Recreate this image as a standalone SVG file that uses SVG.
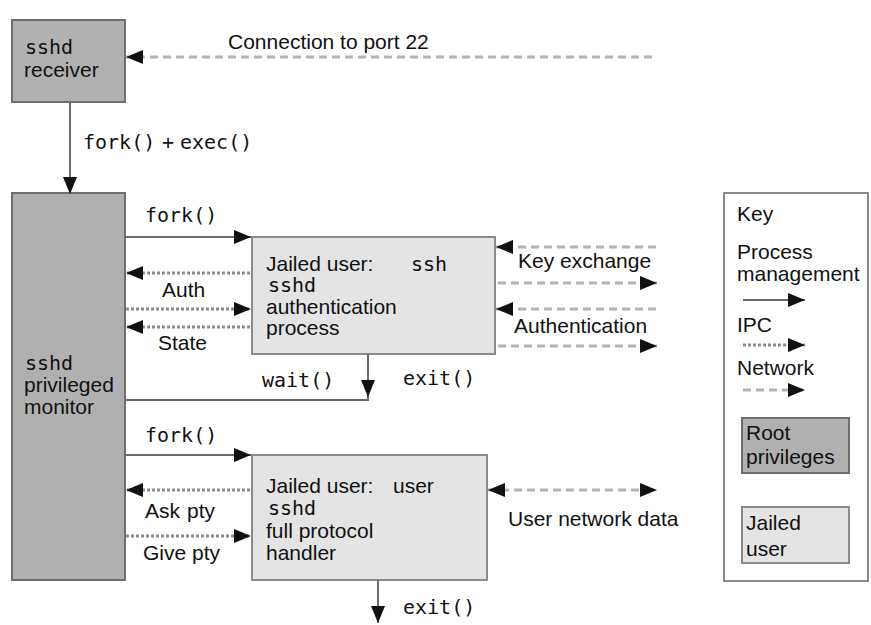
<svg xmlns="http://www.w3.org/2000/svg" width="871" height="625" viewBox="0 0 871 625">
<defs>
<marker id="ah" markerUnits="userSpaceOnUse" markerWidth="17" markerHeight="14" refX="17" refY="7" orient="auto-start-reverse">
<path d="M0,0 L17,7 L0,14 z" fill="#111"/>
</marker>
<style>
.root{fill:#b0b0b0;stroke:#6e6e6e;stroke-width:2}
.jail{fill:#e4e4e4;stroke:#8a8a8a;stroke-width:2}
.key{fill:#fff;stroke:#8a8a8a;stroke-width:2}
.pm{fill:none;stroke:#6a6a6a;stroke-width:2}
.ipc{fill:none;stroke:#8a8a8a;stroke-width:3;stroke-dasharray:3 2}
.net{fill:none;stroke:#b4b4b4;stroke-width:3;stroke-dasharray:8 5}
.s{font-family:"Liberation Sans",Arial,sans-serif;font-size:21px;fill:#111}
.m{font-family:"DejaVu Sans Mono","Liberation Mono",monospace;font-size:20px;fill:#111}
</style>
</defs>
<rect width="871" height="625" fill="#fff"/>

<g id="receiver">
<rect class="root" x="12" y="20" width="113" height="82"/>
<text class="m" x="25" y="54">sshd</text>
<text class="s" x="24" y="77">receiver</text>
</g>

<g id="monitor">
<rect class="root" x="12" y="193" width="113" height="387"/>
<text class="m" x="25" y="370">sshd</text>
<text class="s" x="24" y="392">privileged</text>
<text class="s" x="24" y="414">monitor</text>
</g>

<g id="auth">
<rect class="jail" x="252" y="237" width="243" height="117"/>
<text class="s" x="266" y="271">Jailed user:</text>
<text class="m" x="411" y="271">ssh</text>
<text class="m" x="268" y="292">sshd</text>
<text class="s" x="266" y="314">authentication</text>
<text class="s" x="266" y="335">process</text>
</g>

<g id="handler">
<rect class="jail" x="252" y="455" width="235" height="125"/>
<text class="s" x="266" y="493">Jailed user:</text>
<text class="s" x="393" y="493">user</text>
<text class="m" x="268" y="515">sshd</text>
<text class="s" x="266" y="538">full protocol</text>
<text class="s" x="266" y="560">handler</text>
</g>

<g id="keybox">
<rect class="key" x="724" y="193" width="144" height="388"/>
<text class="s" x="737" y="221">Key</text>
<text class="s" x="737" y="259">Process</text>
<text class="s" x="737" y="281">management</text>
<line class="pm" x1="743" y1="300" x2="805" y2="300" marker-end="url(#ah)"/>
<text class="s" x="737" y="332">IPC</text>
<line class="ipc" x1="743" y1="345" x2="805" y2="345" marker-end="url(#ah)"/>
<text class="s" x="737" y="375">Network</text>
<line class="net" x1="743" y1="390" x2="805" y2="390" marker-end="url(#ah)"/>
</g>

<g id="key-root">
<rect class="root" x="742" y="418" width="107" height="55"/>
<text class="s" x="746" y="440">Root</text>
<text class="s" x="746" y="464">privileges</text>
</g>

<g id="key-jailed">
<rect class="jail" x="742" y="507" width="107" height="56"/>
<text class="s" x="746" y="530">Jailed</text>
<text class="s" x="746" y="556">user</text>
</g>

<g id="connectors">
<line class="net" x1="652" y1="57" x2="126" y2="57" marker-end="url(#ah)"/>
<text class="s" x="228" y="49">Connection to port 22</text>

<line class="pm" x1="70" y1="102" x2="70" y2="194" marker-end="url(#ah)"/>
<text class="m" x="83" y="149">fork()</text>
<text class="m" x="162" y="149">+</text>
<text class="m" x="180" y="149">exec()</text>

<line class="pm" x1="125" y1="237" x2="251" y2="237" marker-end="url(#ah)"/>
<text class="m" x="145" y="222">fork()</text>

<line class="ipc" x1="250" y1="273" x2="126" y2="273" marker-end="url(#ah)"/>
<text class="s" x="162" y="297">Auth</text>
<line class="ipc" x1="126" y1="309" x2="251" y2="309" marker-end="url(#ah)"/>
<line class="ipc" x1="250" y1="327" x2="126" y2="327" marker-end="url(#ah)"/>
<text class="s" x="158" y="350">State</text>

<polyline class="pm" points="125,400 368,400 368,354"/>
<line class="pm" x1="368" y1="354" x2="368" y2="397" marker-end="url(#ah)"/>
<text class="m" x="262" y="387">wait()</text>
<text class="m" x="403" y="385">exit()</text>

<line class="net" x1="656" y1="247" x2="496" y2="247" marker-end="url(#ah)"/>
<text class="s" x="518" y="268">Key exchange</text>
<line class="net" x1="498" y1="283" x2="657" y2="283" marker-end="url(#ah)"/>
<line class="net" x1="656" y1="309" x2="496" y2="309" marker-end="url(#ah)"/>
<text class="s" x="514" y="333">Authentication</text>
<line class="net" x1="498" y1="346" x2="657" y2="346" marker-end="url(#ah)"/>

<line class="pm" x1="125" y1="455" x2="251" y2="455" marker-end="url(#ah)"/>
<text class="m" x="145" y="442">fork()</text>

<line class="ipc" x1="250" y1="490" x2="126" y2="490" marker-end="url(#ah)"/>
<text class="s" x="145" y="518">Ask</text>
<text class="s" x="187" y="518">pty</text>
<line class="ipc" x1="126" y1="536" x2="251" y2="536" marker-end="url(#ah)"/>
<text class="s" x="143" y="560">Give pty</text>

<line class="net" x1="488" y1="490" x2="657" y2="490" marker-start="url(#ah)" marker-end="url(#ah)"/>
<text class="s" x="508" y="526">User network data</text>

<line class="pm" x1="378" y1="580" x2="378" y2="623" marker-end="url(#ah)"/>
<text class="m" x="403" y="614">exit()</text>
</g>
</svg>
